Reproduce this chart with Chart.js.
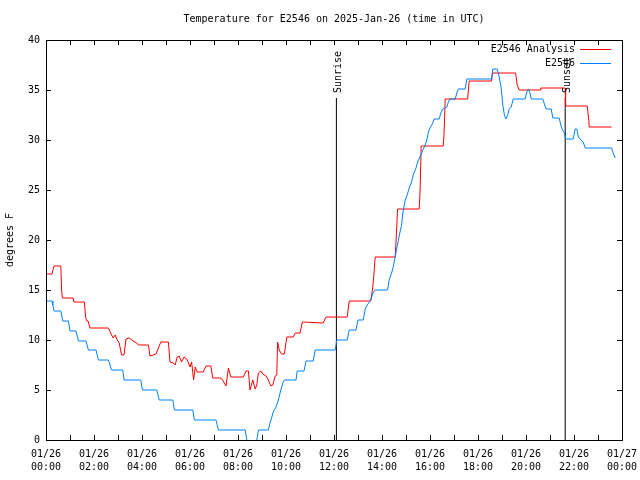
<!DOCTYPE html>
<html>
<head>
<meta charset="utf-8">
<title>Temperature for E2546</title>
<script src="https://cdn.jsdelivr.net/npm/chart.js@4.4.1/dist/chart.umd.min.js"></script>
<style>
  html, body { margin: 0; padding: 0; background: #fff; }
  canvas { display: block; }
</style>
</head>
<body>
<canvas id="tempChart" width="640" height="480"></canvas>
<script>
// ===== DATA (minutes after 01/26 00:00 UTC, degrees F) =====
const analysisMin = [0, 15, 20, 37, 39, 41, 68, 70, 96, 99,
  102, 105, 110, 156, 164, 168, 173, 178, 183, 189,
  195, 200, 208, 218, 227, 231, 256, 260, 268, 275,
  281, 287, 306, 310, 318, 323, 328, 333, 339, 345,
  352, 360, 364, 369, 373, 378, 393, 400, 412, 417,
  437, 443, 450, 456, 462, 493, 500, 506, 510, 517,
  523, 527, 531, 537, 542, 550, 556, 562, 567, 573,
  577, 579, 583, 589, 596, 602, 618, 623, 635, 641,
  693, 700, 753, 758, 812, 817, 820, 823, 873, 875,
  879, 933, 935, 938, 993, 995, 998, 1054, 1058, 1114,
  1116, 1174, 1178, 1183, 1235, 1237, 1298, 1299, 1353, 1357,
  1358, 1414];
const analysisTemp = [16.6, 16.6, 17.4, 17.4, 15.0, 14.2, 14.2, 13.8, 13.8, 12.3,
  11.9, 11.9, 11.2, 11.2, 10.5, 10.2, 10.5, 10.0, 9.7, 8.5,
  8.5, 10.1, 10.2, 9.9, 9.7, 9.5, 9.5, 8.4, 8.5, 8.6,
  9.2, 9.8, 9.8, 7.8, 7.7, 7.5, 8.3, 8.4, 7.8, 8.3,
  8.1, 7.3, 7.8, 6.0, 7.3, 6.8, 6.8, 7.4, 7.4, 6.2,
  6.2, 5.9, 5.4, 7.2, 6.3, 6.3, 6.9, 6.9, 5.0, 6.0,
  5.1, 5.5, 6.7, 6.9, 6.6, 6.4, 6.0, 5.4, 5.5, 6.4,
  6.5, 9.8, 9.0, 8.6, 8.6, 10.3, 10.3, 10.7, 10.7, 11.8,
  11.7, 12.3, 12.3, 13.9, 13.9, 15.3, 16.7, 18.3, 18.3, 19.8,
  23.1, 23.1, 24.7, 29.4, 29.4, 30.5, 34.1, 34.1, 35.9, 35.9,
  36.7, 36.7, 35.5, 35.0, 35.0, 35.2, 35.2, 33.4, 33.4, 32.0,
  31.3, 31.3];

const obsMin = [0, 15, 17, 20, 37, 42, 56, 60, 75, 81,
  100, 106, 125, 131, 156, 164, 192, 195, 237, 241,
  277, 283, 317, 321, 367, 371, 425, 431, 498, 502,
  514, 527, 531, 556, 560, 564, 568, 575, 581, 587,
  592, 596, 625, 628, 645, 650, 668, 673, 723, 727,
  753, 758, 775, 780, 793, 798, 803, 812, 817, 823,
  854, 858, 864, 868, 873, 877, 881, 885, 889, 892,
  898, 903, 908, 914, 918, 925, 929, 935, 942, 948,
  952, 956, 960, 967, 970, 983, 987, 992, 1002, 1006,
  1010, 1023, 1027, 1031, 1048, 1052, 1114, 1117, 1128, 1133,
  1138, 1142, 1146, 1150, 1154, 1158, 1163, 1168, 1198, 1202,
  1206, 1210, 1213, 1242, 1246, 1250, 1263, 1267, 1283, 1287,
  1289, 1295, 1299, 1318, 1323, 1327, 1331, 1335, 1343, 1348,
  1414, 1418, 1423];
const obsTemp = [13.9, 13.9, 13.5, 12.9, 12.9, 11.9, 11.9, 10.9, 10.9, 9.9,
  9.9, 9.0, 9.0, 8.0, 8.0, 7.0, 7.0, 6.0, 6.0, 5.0,
  5.0, 4.0, 4.0, 3.0, 3.0, 2.0, 2.0, 1.0, 1.0, 0,
  -1.0, 0, 1.0, 1.0, 1.7, 2.2, 2.8, 3.3, 4.0, 5.0,
  5.7, 6.0, 6.0, 6.9, 6.9, 7.9, 7.9, 9.0, 9.0, 10.0,
  10.0, 11.0, 11.0, 12.0, 12.0, 13.1, 13.5, 14.0, 14.7, 15.0,
  15.0, 16.0, 16.7, 17.3, 18.3, 19.2, 20.0, 20.8, 21.5, 22.7,
  24.0, 24.5, 25.2, 25.8, 26.5, 27.2, 27.8, 28.3, 29.0, 29.5,
  30.0, 30.8, 31.2, 31.7, 32.1, 32.1, 32.7, 33.1, 33.3, 33.8,
  34.1, 34.1, 34.7, 35.1, 35.1, 36.1, 36.1, 37.1, 37.1, 36.3,
  35.2, 33.5, 32.5, 32.1, 32.5, 33.1, 33.3, 34.1, 34.1, 34.8,
  35.1, 34.7, 34.1, 34.1, 33.6, 33.1, 33.1, 32.2, 32.2, 31.5,
  31.2, 30.8, 30.1, 30.1, 31.1, 31.1, 30.3, 30.1, 29.8, 29.2,
  29.2, 28.7, 28.2];

// sunrise / sunset markers (minutes) and how high the marker lines reach
const sunriseMin = 726;
const sunsetMin = 1298;
const sunLineTop = 34.2;

// x tick labels, every 2 hours
const tickMin = [0, 120, 240, 360, 480, 600, 720, 840, 960, 1080, 1200, 1320, 1440];
const tickDates = ['01/26', '01/26', '01/26', '01/26', '01/26', '01/26', '01/26',
  '01/26', '01/26', '01/26', '01/26', '01/26', '01/27'];
const tickTimes = ['00:00', '02:00', '04:00', '06:00', '08:00', '10:00', '12:00',
  '14:00', '16:00', '18:00', '20:00', '22:00', '00:00'];
const yTicks = [0, 5, 10, 15, 20, 25, 30, 35, 40];

const FONT = "'DejaVu Sans Mono', 'Liberation Mono', monospace";
const RED = '#ff0000';
const BLUE = '#0080ff';

const toXY = (xs, ys) => xs.map((x, i) => ({ x: x, y: ys[i] }));

// ===== FRAME, TICKS, TITLE, LEGEND (gnuplot look) =====
const gnuplotDecor = {
  id: 'gnuplotDecor',
  afterDraw(chart) {
    const { ctx, chartArea: a, scales } = chart;
    const xs = scales.x, ys = scales.y;
    ctx.save();
    ctx.strokeStyle = '#000';
    ctx.lineWidth = 1;

    // border
    ctx.strokeRect(Math.round(a.left) + 0.5, Math.round(a.top) + 0.5,
      Math.round(a.right - a.left), Math.round(a.bottom - a.top));

    // inward ticks: every hour on x, every 5 on y
    ctx.beginPath();
    for (let m = 60; m < 1440; m += 60) {
      const px = Math.round(xs.getPixelForValue(m)) + 0.5;
      ctx.moveTo(px, a.bottom); ctx.lineTo(px, a.bottom - 5);
      ctx.moveTo(px, a.top); ctx.lineTo(px, a.top + 5);
    }
    yTicks.slice(1, -1).forEach(v => {
      const py = Math.round(ys.getPixelForValue(v)) + 0.5;
      ctx.moveTo(a.left, py); ctx.lineTo(a.left + 5, py);
      ctx.moveTo(a.right, py); ctx.lineTo(a.right - 5, py);
    });
    ctx.stroke();

    ctx.fillStyle = '#000';
    ctx.font = '10px ' + FONT;

    // title
    ctx.textAlign = 'center';
    ctx.textBaseline = 'middle';
    ctx.fillText('Temperature for E2546 on 2025-Jan-26 (time in UTC)', (a.left + a.right) / 2, 19);

    // y axis title
    ctx.save();
    ctx.translate(10, (a.top + a.bottom) / 2);
    ctx.rotate(-Math.PI / 2);
    ctx.fillText('degrees F', 0, 0);
    ctx.restore();

    // legend, text right aligned with sample line after it
    const legendItems = [['E2546 Analysis', RED], ['E2546', BLUE]];
    ctx.textAlign = 'right';
    legendItems.forEach(([label, color], i) => {
      const y = 49 + i * 14;
      ctx.fillStyle = '#000';
      ctx.fillText(label, 575, y);
      ctx.fillStyle = color;
      ctx.fillRect(580, y, 31, 1);
    });

    // sunrise / sunset labels, rotated above their lines
    ctx.fillStyle = '#000';
    ctx.textAlign = 'left';
    [[sunriseMin, 'Sunrise'], [sunsetMin, 'Sunset']].forEach(([m, txt]) => {
      ctx.save();
      ctx.translate(xs.getPixelForValue(m) + 2, ys.getPixelForValue(sunLineTop) - 5);
      ctx.rotate(-Math.PI / 2);
      ctx.fillText(txt, 0, 0);
      ctx.restore();
    });
    ctx.restore();
  }
};

// ===== BUILD CHART =====
const initChart = () => {
  const canvas = document.getElementById('tempChart');
  new Chart(canvas, {
    type: 'line',
    data: {
      datasets: [
        {
          label: 'E2546 Analysis',
          data: toXY(analysisMin, analysisTemp),
          borderColor: RED,
          borderWidth: 1,
          pointRadius: 0,
          order: 2
        },
        {
          label: 'E2546',
          data: toXY(obsMin, obsTemp),
          borderColor: BLUE,
          borderWidth: 1,
          pointRadius: 0,
          order: 1
        },
        {
          label: 'Sunrise',
          data: [{ x: sunriseMin, y: 0 }, { x: sunriseMin, y: sunLineTop }],
          borderColor: '#000',
          borderWidth: 1,
          pointRadius: 0,
          order: 3
        },
        {
          label: 'Sunset',
          data: [{ x: sunsetMin, y: 0 }, { x: sunsetMin, y: sunLineTop }],
          borderColor: '#000',
          borderWidth: 1,
          pointRadius: 0,
          order: 3
        }
      ]
    },
    options: {
      responsive: false,
      animation: false,
      devicePixelRatio: 1,
      layout: { padding: { top: 40, right: 18, left: 0, bottom: 0 } },
      plugins: {
        legend: { display: false },
        title: { display: false },
        tooltip: { enabled: false }
      },
      scales: {
        x: {
          type: 'linear',
          min: 0,
          max: 1440,
          afterFit: s => {
            s.height = 40;
            s.paddingLeft = 0;
            s.paddingRight = 0;
          },
          afterBuildTicks: s => { s.ticks = tickMin.map(v => ({ value: v })); },
          grid: { display: false, drawTicks: false },
          border: { display: false },
          ticks: {
            autoSkip: false,
            maxRotation: 0,
            padding: 8,
            color: '#000',
            font: { family: FONT, size: 10, lineHeight: 1.3 },
            callback: (v, i) => [tickDates[i], tickTimes[i]]
          }
        },
        y: {
          min: 0,
          max: 40,
          afterFit: s => {
            s.width = 46;
            s.paddingTop = 0;
            s.paddingBottom = 0;
          },
          afterBuildTicks: s => { s.ticks = yTicks.map(v => ({ value: v })); },
          grid: { display: false, drawTicks: false },
          border: { display: false },
          ticks: {
            padding: 6,
            color: '#000',
            font: { family: FONT, size: 10 }
          }
        }
      }
    },
    plugins: [gnuplotDecor]
  });
};

document.addEventListener('DOMContentLoaded', initChart);
</script>
</body>
</html>
